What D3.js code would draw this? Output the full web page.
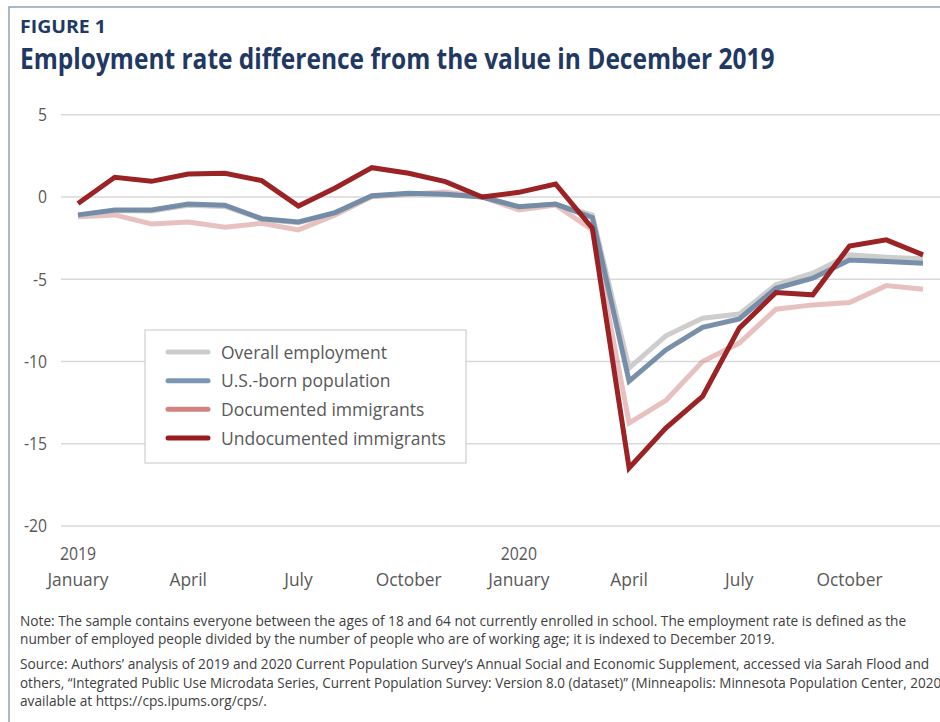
<!DOCTYPE html>
<html>
<script src="https://d3js.org/d3.v7.min.js"></script>

<head>
    <style>
        body {
            margin: 0;
            background-color: white;
            font-family: "Open Sans", Arial, sans-serif;
        }

        svg {
            display: block;
        }
    </style>
</head>

<body>
    <div id="vis"></div>
</body>
<script>
    // months Jan 2019 .. Dec 2020, values are percentage points vs Dec 2019
    const months = ["2019-01", "2019-02", "2019-03", "2019-04", "2019-05", "2019-06",
        "2019-07", "2019-08", "2019-09", "2019-10", "2019-11", "2019-12",
        "2020-01", "2020-02", "2020-03", "2020-04", "2020-05", "2020-06",
        "2020-07", "2020-08", "2020-09", "2020-10", "2020-11", "2020-12"];
    const overall = [-1.12, -0.82, -0.85, -0.5, -0.58, -1.35, -1.57, -0.95, 0.05, 0.2, 0.17, 0,
        -0.6, -0.45, -1.1, -10.4, -8.44, -7.37, -7.12, -5.34, -4.63, -3.52, -3.66, -3.76];
    const usBorn = [-1.09, -0.79, -0.79, -0.43, -0.5, -1.32, -1.52, -0.95, 0.08, 0.22, 0.16, 0,
        -0.59, -0.43, -1.25, -11.2, -9.3, -7.93, -7.41, -5.55, -4.94, -3.83, -3.93, -4.03];
    const documented = [-1.2, -1.09, -1.64, -1.52, -1.84, -1.6, -2.0, -1.1, 0.02, 0.16, 0.3, 0,
        -0.79, -0.49, -2.0, -13.74, -12.37, -10.0, -8.88, -6.82, -6.56, -6.42, -5.39, -5.61];
    const undocumented = [-0.4, 1.2, 0.95, 1.4, 1.44, 0.99, -0.55, 0.55, 1.78, 1.44, 0.93, 0,
        0.28, 0.79, -1.9, -16.47, -14.05, -12.12, -7.97, -5.81, -5.95, -2.98, -2.61, -3.52];
    const seriesNames = ["Overall employment", "U.S.-born population", "Documented immigrants", "Undocumented immigrants"];
    const yTicks = [5, 0, -5, -10, -15, -20];
    const xTicks = ["2019-01", "2019-04", "2019-07", "2019-10", "2020-01", "2020-04", "2020-07", "2020-10"];
    const tickNames = { "01": "January", "04": "April", "07": "July", "10": "October" };

    const width = 940,
        height = 722;
    const navy = "#1f3864",
        grey = "#595959";

    const svg = d3.select("#vis").append("svg").attr("width", width).attr("height", height);

    // squeeze text horizontally (around its anchor) so it looks like the condensed original face
    function squeeze(sel, ratio) {
        sel.each(function () {
            const t = d3.select(this);
            const x0 = +t.attr("x"), y0 = +t.attr("y");
            t.attr("x", 0).attr("y", 0)
                .attr("transform", `translate(${x0},${y0}) scale(${ratio},1)`);
        });
    }
    function ratioFor(sel, target) {
        return target / sel.node().getComputedTextLength();
    }

    // frame
    svg.append("path")
        .attr("d", "M9,722 L9,7 L940,7")
        .attr("fill", "none")
        .attr("stroke", "#8ca2b7")
        .attr("stroke-width", 1.5);

    svg.append("text")
        .attr("x", 20).attr("y", 33)
        .attr("font-size", 17.5).attr("font-weight", 700)
        .attr("fill", navy)
        .text("FIGURE 1")
        .call(s => squeeze(s, ratioFor(s, 86)));

    svg.append("text")
        .attr("x", 20).attr("y", 69)
        .attr("font-size", 28).attr("font-weight", 700)
        .attr("fill", navy)
        .text("Employment rate difference from the value in December 2019")
        .call(s => squeeze(s, ratioFor(s, 755)));

    const x = d3.scalePoint().domain(months).range([78, 923]);
    const y = d3.scaleLinear().domain([-20, 5]).range([526, 114.7]);

    // gridlines + y labels
    const yAxis = svg.append("g");
    yAxis.selectAll("line")
        .data(yTicks)
        .join("line")
        .attr("x1", 61).attr("x2", width)
        .attr("y1", d => y(d)).attr("y2", d => y(d))
        .attr("stroke", "#d9d9d9")
        .attr("stroke-width", 1.5);
    const yLabels = yAxis.selectAll("text")
        .data(yTicks)
        .join("text")
        .attr("x", 47)
        .attr("y", d => y(d))
        .attr("dy", "0.36em")
        .attr("text-anchor", "end")
        .attr("font-size", 17.5)
        .attr("fill", grey)
        .text(d => d);
    squeeze(yLabels, 0.9);

    // x labels
    const xAxis = svg.append("g");
    const xLabels = xAxis.selectAll("text.month")
        .data(xTicks)
        .join("text")
        .attr("class", "month")
        .attr("x", d => x(d))
        .attr("y", 586)
        .attr("text-anchor", "middle")
        .attr("font-size", 18)
        .attr("fill", grey)
        .text(d => tickNames[d.slice(5)]);
    squeeze(xLabels, ratioFor(xLabels.filter(d => d == "2019-10"), 66));
    const yearLabels = xAxis.selectAll("text.year")
        .data(xTicks.filter(d => d.endsWith("-01")))
        .join("text")
        .attr("class", "year")
        .attr("x", d => x(d))
        .attr("y", 560)
        .attr("text-anchor", "middle")
        .attr("font-size", 18)
        .attr("fill", grey)
        .text(d => d.slice(0, 4));
    squeeze(yearLabels, 0.88);

    // lines, drawn back to front
    const series = [
        { name: seriesNames[2], values: documented, color: "#d0837f", opacity: 0.5, legend: "#d0837f" },
        { name: seriesNames[0], values: overall, color: "#c4c4c4", opacity: 0.85, legend: "#cccccc" },
        { name: seriesNames[1], values: usBorn, color: "#6c87a3", opacity: 0.92, legend: "#7b97b4" },
        { name: seriesNames[3], values: undocumented, color: "#981b1e", opacity: 0.97, legend: "#9b1b1f" }
    ];
    const line = d3.line()
        .x((d, i) => x(months[i]))
        .y(d => y(d));
    svg.append("g")
        .selectAll("path")
        .data(series)
        .join("path")
        .attr("d", d => line(d.values))
        .attr("fill", "none")
        .attr("stroke", d => d.color)
        .attr("stroke-opacity", d => d.opacity)
        .attr("stroke-width", 5);

    // legend
    const legendOrder = seriesNames.map(n => series.find(s => s.name == n));
    const legend = svg.append("g");
    legend.append("rect")
        .attr("x", 145).attr("y", 330)
        .attr("width", 321).attr("height", 133)
        .attr("fill", "white")
        .attr("stroke", "#cfcfcf")
        .attr("stroke-width", 1.2);
    const ly = d3.scalePoint().domain(seriesNames).range([352, 438]);
    legend.selectAll("line")
        .data(legendOrder)
        .join("line")
        .attr("x1", 168).attr("x2", 208)
        .attr("y1", d => ly(d.name)).attr("y2", d => ly(d.name))
        .attr("stroke", d => d.legend)
        .attr("stroke-width", 5)
        .attr("stroke-linecap", "round");
    const legendText = legend.selectAll("text")
        .data(legendOrder)
        .join("text")
        .attr("x", 221)
        .attr("y", d => ly(d.name))
        .attr("dy", "0.36em")
        .attr("font-size", 18.5)
        .attr("fill", grey)
        .text(d => d.name);
    squeeze(legendText, ratioFor(legendText.filter((d, i) => i == 3), 225));

    // notes; the fourth line runs past the right edge, as in the original crop
    const notes = [
        ["Note: The sample contains everyone between the ages of 18 and 64 not currently enrolled in school. The employment rate is defined as the", 626],
        ["number of employed people divided by the number of people who are of working age; it is indexed to December 2019.", 644],
        ["Source: Authors\u2019 analysis of 2019 and 2020 Current Population Survey\u2019s Annual Social and Economic Supplement, accessed via Sarah Flood and", 669],
        ["others, \u201cIntegrated Public Use Microdata Series, Current Population Survey: Version 8.0 (dataset)\u201d (Minneapolis: Minnesota Population Center, 2020),", 688],
        ["available at https://cps.ipums.org/cps/.", 706]
    ];
    const noteText = svg.append("g")
        .selectAll("text")
        .data(notes)
        .join("text")
        .attr("x", 20)
        .attr("y", d => d[1])
        .attr("font-size", 14.5)
        .attr("fill", "#404040")
        .text(d => d[0]);
    const noteRatio = ratioFor(noteText.filter((d, i) => i == 0), 887);
    squeeze(noteText.filter((d, i) => i < 3 || i == 4), noteRatio);
    squeeze(noteText.filter((d, i) => i == 3), noteRatio * 0.985);
</script>

</html>
